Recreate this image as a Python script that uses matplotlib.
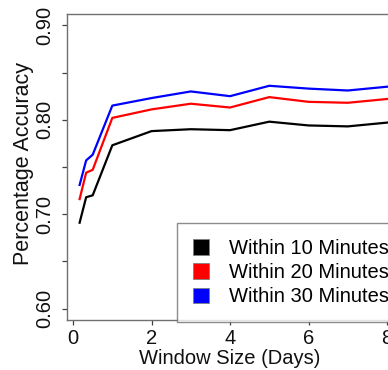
import matplotlib
matplotlib.use("Agg")
import matplotlib.pyplot as plt
from matplotlib.patches import Patch

plt.rcParams['font.family'] = ['Liberation Sans', 'DejaVu Sans']

# window sizes in days (4h, 8h, 12h, 1..8 days)
window_days = [1/6, 1/3, 0.5, 1, 2, 3, 4, 5, 6, 7, 8]
acc_10 = [0.691, 0.718, 0.720, 0.773, 0.788, 0.790, 0.789, 0.798, 0.794, 0.793, 0.797]
acc_20 = [0.716, 0.744, 0.747, 0.802, 0.811, 0.817, 0.813, 0.824, 0.819, 0.818, 0.822]
acc_30 = [0.731, 0.757, 0.763, 0.815, 0.823, 0.830, 0.825, 0.836, 0.833, 0.831, 0.835]

series_labels = ["Within 10 Minutes", "Within 20 Minutes", "Within 30 Minutes"]
series_colors = ["black", "red", "blue"]

x_ticks = [0, 2, 4, 6, 8]
y_ticks = [0.60, 0.65, 0.70, 0.75, 0.80, 0.85, 0.90]
y_ticklabels = ["0.60", "", "0.70", "", "0.80", "", "0.90"]

W, H = 388, 370
fig = plt.figure(figsize=(W / 100, H / 100), dpi=100)
# axes box runs past the right edge of the picture (cropped original)
ax = fig.add_axes([67.3 / W, 50 / H, 332 / W, 306 / H])

for ys, c in zip([acc_10, acc_20, acc_30], series_colors):
    ax.plot(window_days, ys, color=c, linewidth=1.6)

ax.set_xlim(-0.147, 8.313)
ax.set_ylim(0.588, 0.912)

ax.set_xticks(x_ticks)
ax.set_xticklabels([str(t) for t in x_ticks])
ax.set_yticks(y_ticks)
ax.set_yticklabels(y_ticklabels, rotation=90, va="center")

for s in ax.spines.values():
    s.set_color("#707070")
    s.set_linewidth(1.0)
ax.tick_params(axis="both", direction="out", length=3.3, width=0.9,
               color="#404040", labelsize=14.5, labelcolor="#111111")
ax.tick_params(axis="x", pad=3)
ax.tick_params(axis="y", pad=6)

ax.set_xlabel("Window Size (Days)", fontsize=14.5, color="#111111")
ax.set_ylabel("Percentage Accuracy", fontsize=15.5, color="#111111")
ax.xaxis.label.set_va("center")
ax.yaxis.label.set_va("center")
ax.xaxis.set_label_coords((230 - 67.3) / 332, (320 - 358) / 306)
ax.yaxis.set_label_coords((23 - 67.3) / 332, 0.51)

handles = [Patch(facecolor=c, edgecolor="#808080", linewidth=0.6) for c in series_colors]
leg = ax.legend(handles, series_labels, loc="upper left",
                bbox_to_anchor=((176.7 - 67.3) / 332, (320 - 222.7) / 306),
                borderaxespad=0, fontsize=14.5, frameon=True, fancybox=False,
                handlelength=0.8, handleheight=0.8, handletextpad=1.0,
                labelspacing=0.26, borderpad=0.8)
leg.get_frame().set_edgecolor("#707070")
leg.get_frame().set_linewidth(1.0)

fig.savefig("out.png", dpi=100)
